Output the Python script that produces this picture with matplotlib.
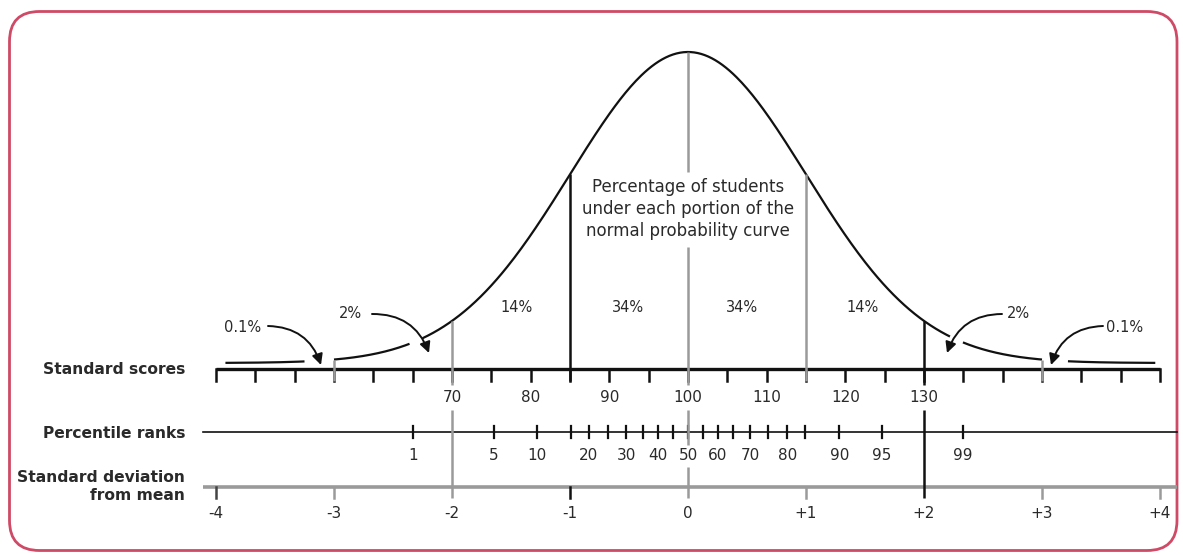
import math
import numpy as np
import matplotlib
matplotlib.use("Agg")
import matplotlib.pyplot as plt
from matplotlib.patches import FancyBboxPatch

# ---------------- data ----------------
sd_values = [-4, -3, -2, -1, 0, 1, 2, 3, 4]
sd_labels = ["-4", "-3", "-2", "-1", "0", "+1", "+2", "+3", "+4"]
score_mean = 100
score_sd = 15
score_ticks = list(range(40, 165, 5))
score_labels = [70, 80, 90, 100, 110, 120, 130]
pct_ticks = [1, 5, 10, 16, 20, 25, 30, 35, 40, 45, 50, 55, 60, 65, 70, 75, 80, 84, 90, 95, 99]
pct_labels = [1, 5, 10, 20, 30, 40, 50, 60, 70, 80, 90, 95, 99]
region_labels = ["0.1%", "2%", "14%", "34%", "34%", "14%", "2%", "0.1%"]
center_text = "Percentage of students\nunder each portion of the\nnormal probability curve"
row_titles = ["Standard scores", "Percentile ranks", "Standard deviation\nfrom mean"]

# ---------------- layout (pixel geometry of the figure) ----------------
W, H = 1183, 555
X0, PX_PER_SD = 688.0, 118.0          # z = 0 position and pixels per SD
CURVE_BASE, CURVE_H = 363.0, 311.0    # curve baseline (px) and peak height (px)


def ypx(p):
    """pixel row -> data y (relative density units)"""
    return (CURVE_BASE - p) / CURVE_H


def xpx(p):
    return (p - X0) / PX_PER_SD


def probit(p):
    lo, hi = -8.0, 8.0
    for _ in range(80):
        mid = 0.5 * (lo + hi)
        if 0.5 * (1 + math.erf(mid / math.sqrt(2))) < p:
            lo = mid
        else:
            hi = mid
    return 0.5 * (lo + hi)


def dens(z):
    return np.exp(-np.asarray(z) ** 2 / 2.0)


fig = plt.figure(figsize=(W / 100, H / 100), dpi=100)
fig.patch.set_facecolor("white")

# frame axes in pixel units
fax = fig.add_axes([0, 0, 1, 1])
fax.set_xlim(0, W)
fax.set_ylim(H, 0)
fax.axis("off")
fax.add_patch(FancyBboxPatch((9.5, 11.5), 1167.5, 539, boxstyle="round,pad=0,rounding_size=30",
                             fill=False, ec="#cf4a66", lw=2.0))

ax = fig.add_axes([0, 0, 1, 1])
ax.set_xlim(xpx(0), xpx(W))
ax.set_ylim(ypx(H), ypx(0))
ax.axis("off")
ax.patch.set_alpha(0)

TXT = "#2a2a2a"
GRAY = "#9a9a9a"
fs = 11

# ---------------- curve (with gaps where arrows pass) ----------------
segments = [(-3.92, -3.25), (-3.0, -2.36), (-2.25, 2.22), (2.33, 3.0), (3.22, 3.96)]
for a, b in segments:
    zz = np.linspace(a, b, 300)
    ax.plot(zz, dens(zz), color="#111111", lw=1.6, solid_capstyle="butt")

# ---------------- rows ----------------
SCORE_Y = ypx(369)
SCORE_TICK = ypx(381)
PCT_Y = ypx(432)
SD_Y = ypx(487)
SD_TICK = ypx(498)

# standard scores axis
zs = [(s - score_mean) / score_sd for s in score_ticks]
ax.plot([zs[0], zs[-1]], [SCORE_Y, SCORE_Y], color="#111111", lw=2.4, solid_capstyle="butt")
for z in zs:
    ax.plot([z, z], [SCORE_Y, SCORE_TICK], color="#111111", lw=1.8)
for s in score_labels:
    ax.text((s - score_mean) / score_sd, ypx(397), str(s), ha="center", va="center",
            fontsize=fs, color=TXT)

# percentile axis
ax.plot([xpx(203), xpx(1177)], [PCT_Y, PCT_Y], color="#111111", lw=1.2)
for p in pct_ticks:
    z = probit(p / 100)
    ax.plot([z, z], [ypx(426), ypx(438)], color="#111111", lw=1.6)
for p in pct_labels:
    ax.text(probit(p / 100), ypx(455), str(p), ha="center", va="center", fontsize=fs, color=TXT)

# SD axis
ax.plot([xpx(203), xpx(1177)], [SD_Y, SD_Y], color=GRAY, lw=2.6, solid_capstyle="butt")
sd_tick_colors = {-4: "#444444", -3: GRAY, -1: "#111111", 1: GRAY, 3: GRAY, 4: GRAY}
for v in sd_values:
    if v in sd_tick_colors:
        ax.plot([v, v], [SD_Y, SD_TICK], color=sd_tick_colors[v], lw=1.8)
for v, lab in zip(sd_values, sd_labels):
    ax.text(v, ypx(513), lab, ha="center", va="center", fontsize=fs, color=TXT)

# ---------------- vertical divider lines ----------------
def vline(z, color, spans):
    for top, bot in spans:
        ax.plot([z, z], [top, bot], color=color, lw=1.8, solid_capstyle="butt")

vline(-3, GRAY, [(dens(-3), SCORE_TICK)])
vline(3, GRAY, [(dens(3), SCORE_TICK)])
vline(-1, "#111111", [(dens(-1), SCORE_TICK)])
vline(1, GRAY, [(dens(1), SCORE_TICK)])
vline(-2, GRAY, [(dens(-2), ypx(385)), (ypx(410), SD_TICK)])
vline(2, "#111111", [(dens(2), ypx(385)), (ypx(410), SD_TICK)])
vline(0, GRAY, [(dens(0), ypx(172)), (ypx(247), ypx(385)), (ypx(410), ypx(445)),
                (ypx(467), SD_TICK)])

# ---------------- texts ----------------
ax.text(0, ypx(209), center_text, ha="center", va="center", fontsize=12, color=TXT,
        linespacing=1.32)

region_x = [243, 350, 517, 628, 742, 863, 1018, 1125]
region_y = [327, 314, 308, 308, 308, 308, 313, 327]
for lab, xp, yp in zip(region_labels, region_x, region_y):
    ax.text(xpx(xp), ypx(yp), lab, ha="center", va="center", fontsize=10.5, color=TXT)

# arrows: (start px, head px, rad)
arrows = [((268, 326), (321, 365), -0.35),
          ((372, 314), (429, 353), -0.35),
          ((1002, 314), (947, 353), 0.35),
          ((1103, 326), (1051, 365), 0.35)]
for (sx, sy), (hx, hy), rad in arrows:
    ax.annotate("", xy=(xpx(hx), ypx(hy)), xytext=(xpx(sx), ypx(sy)),
                arrowprops=dict(arrowstyle="-|>", connectionstyle=f"arc3,rad={rad}",
                                color="#111111", lw=1.4, mutation_scale=16,
                                shrinkA=0, shrinkB=0))

# row titles
ax.text(xpx(185), ypx(370), row_titles[0], ha="right", va="center", fontsize=11.2,
        fontweight="bold", color=TXT)
ax.text(xpx(185), ypx(433), row_titles[1], ha="right", va="center", fontsize=11.2,
        fontweight="bold", color=TXT)
ax.text(xpx(185), ypx(487), row_titles[2], ha="right", va="center", fontsize=11.2,
        fontweight="bold", color=TXT, linespacing=1.25)

fig.savefig("out.png", dpi=100, facecolor="white")
